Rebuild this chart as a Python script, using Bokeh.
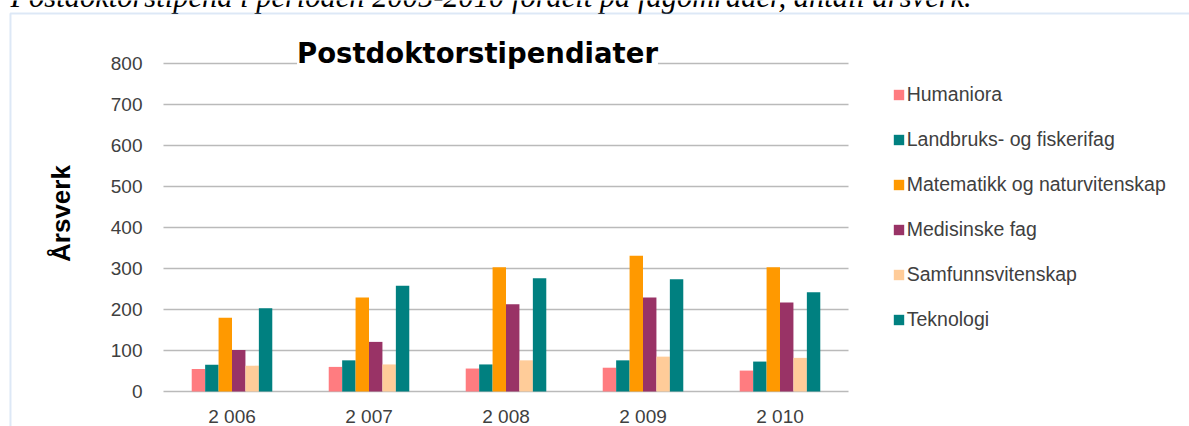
from bokeh.plotting import figure
from bokeh.models import (Range1d, FixedTicker, Legend, LegendItem, LinearAxis,
                          Label, BoxAnnotation, ColumnDataSource)
from bokeh.transform import dodge
from bokeh.embed import file_html
from bokeh.resources import INLINE

years = ["2 006", "2 007", "2 008", "2 009", "2 010"]
series = ["Humaniora", "Landbruks- og fiskerifag", "Matematikk og naturvitenskap",
          "Medisinske fag", "Samfunnsvitenskap", "Teknologi"]
humaniora = [55, 60, 56, 58, 51]
landbruk = [65, 76, 66, 76, 73]
matematikk = [180, 229, 303, 331, 303]
medisin = [101, 121, 213, 229, 217]
samfunn = [63, 66, 76, 85, 82]
teknologi = [203, 258, 276, 274, 242]
colors = ["#FF7C80", "#008080", "#FF9900", "#993366", "#FFCC99", "#008080"]
y_ticks = [0, 100, 200, 300, 400, 500, 600, 700, 800]
title_text = "Postdoktorstipendiater"
caption_text = "Postdoktorstipend i perioden 2005-2010 fordelt på fagområder, antall årsverk."
y_label = "Årsverk"

n = len(years)
centers = [i + 0.5 for i in range(n)]
cols = ["humaniora", "landbruk", "matematikk", "medisin", "samfunn", "teknologi"]
src = ColumnDataSource(dict(xc=centers, year=years, humaniora=humaniora, landbruk=landbruk,
                            matematikk=matematikk, medisin=medisin,
                            samfunn=samfunn, teknologi=teknologi))

# frame spans the whole canvas; ranges chosen so the plot area sits where the original's does
p = figure(x_range=Range1d(-1.1898, 7.489), y_range=Range1d(-85.37, 953.66),
           width=1189, height=426, output_backend="svg", toolbar_location=None,
           x_axis_type=None, y_axis_type=None, min_border=0)
p.outline_line_color = None
p.background_fill_color = "white"
p.border_fill_color = "white"

# horizontal gridlines over the category span only
p.segment(x0=0, x1=n, y0=y_ticks, y1=y_ticks, line_color="#BABABA", line_width=1.7)

w = 0.098
renderers = []
for i, (col, c) in enumerate(zip(cols, colors)):
    r = p.vbar(x=dodge("xc", (i - 2.5) * w), top=col, width=w,
               source=src, fill_color=c, line_color=None)
    renderers.append(r)

yaxis = LinearAxis(fixed_location=0, ticker=FixedTicker(ticks=y_ticks))
yaxis.axis_line_color = None
yaxis.major_tick_line_color = None
yaxis.minor_tick_line_color = None
yaxis.major_tick_out = 0
yaxis.major_tick_in = 0
yaxis.major_label_standoff = 21
yaxis.major_label_text_font = "Liberation Sans"
yaxis.major_label_text_font_size = "19px"
yaxis.major_label_text_color = "#404040"
yaxis.axis_label = y_label
yaxis.axis_label_text_font = "Liberation Sans"
yaxis.axis_label_text_font_style = "bold"
yaxis.axis_label_text_font_size = "26px"
yaxis.axis_label_text_color = "#000000"
yaxis.axis_label_standoff = 32
p.add_layout(yaxis, "left")

xaxis = LinearAxis(fixed_location=0, ticker=FixedTicker(ticks=centers),
                   major_label_overrides={c: y for c, y in zip(centers, years)})
xaxis.axis_line_color = None
xaxis.major_tick_line_color = None
xaxis.minor_tick_line_color = None
xaxis.major_tick_out = 0
xaxis.major_tick_in = 0
xaxis.major_label_standoff = 15
xaxis.major_label_text_font = "Liberation Sans"
xaxis.major_label_text_font_size = "19px"
xaxis.major_label_text_color = "#404040"
p.add_layout(xaxis, "below")

title = Label(x=2.292, y=824.5, x_units="data", y_units="data", text=title_text,
              text_align="center", text_baseline="alphabetic",
              text_font="DejaVu Sans", text_font_style="bold", text_font_size="27.5px",
              text_color="#000000", background_fill_color="white")
p.add_layout(title)

caption = Label(x=-1.117, y=961, x_units="data", y_units="data", text=caption_text,
                text_align="left", text_baseline="alphabetic",
                text_font="Liberation Serif", text_font_style="italic",
                text_font_size="30.5px", text_color="#000000")
p.add_layout(caption)

border = BoxAnnotation(left=-1.117, right=20, top=921.95, bottom=-500,
                       fill_color=None, fill_alpha=0, line_color="#8DB3E2",
                       line_width=2, level="overlay")
p.add_layout(border)

legend = Legend(items=[LegendItem(label=s, renderers=[r]) for s, r in zip(series, renderers)],
                location=(891.7, 94.8), orientation="vertical",
                glyph_width=13, glyph_height=13, label_standoff=2, spacing=22,
                padding=0, margin=0, border_line_color=None, background_fill_alpha=0,
                label_text_font="Liberation Sans", label_text_font_size="19.5px",
                label_text_color="#404040", label_height=20)
p.add_layout(legend)

open("out.html", "w").write(file_html(p, INLINE))
